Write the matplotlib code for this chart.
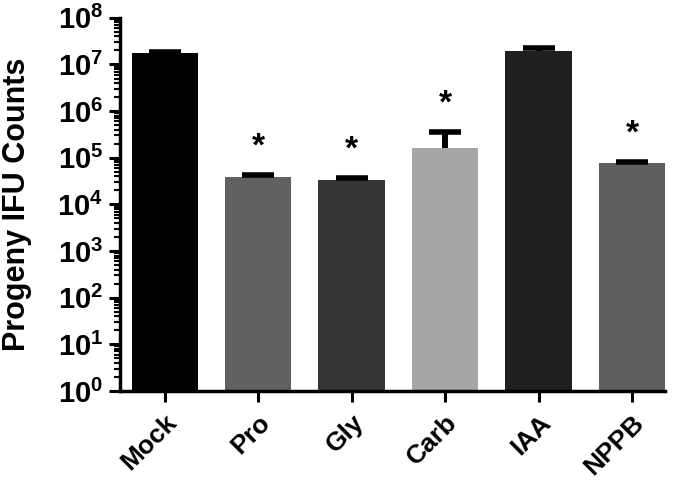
import matplotlib
matplotlib.use('Agg')
import matplotlib.pyplot as plt
import numpy as np

plt.rcParams['font.family'] = ['Liberation Sans', 'DejaVu Sans']
plt.rcParams['font.weight'] = 'bold'
plt.rcParams['mathtext.fontset'] = 'custom'
plt.rcParams['mathtext.rm'] = 'Liberation Sans:bold'
plt.rcParams['mathtext.it'] = 'Liberation Sans:bold'
plt.rcParams['mathtext.bf'] = 'Liberation Sans:bold'

categories = ['Mock', 'Pro', 'Gly', 'Carb', 'IAA', 'NPPB']
counts = [1.8e7, 3.9e4, 3.4e4, 1.6e5, 1.9e7, 7.6e4]
errors = [0.6e6, 0.35e4, 0.3e4, 1.9e5, 3.5e6, 0.35e4]
significant = [False, True, True, True, False, True]
bar_colors = ['#000000', '#616161', '#363636', '#a6a6a6', '#1f1f1f', '#5e5e5e']

fig = plt.figure(figsize=(6.85, 4.82), dpi=100)
ax = fig.add_axes([0.175, 0.189, 0.796, 0.774])

x = np.arange(len(categories))
tops = np.array(counts) + np.array(errors)
ax.bar(x, counts, width=0.71, color=bar_colors, zorder=2)
# upper error bars only (vertical line + cap)
ax.vlines(x, counts, tops, color='black', linewidth=4.3, zorder=3)
ax.plot(x, tops, linestyle='none', marker='_', markersize=23,
        markeredgewidth=4, color='black', zorder=3)

# significance stars above the error bars
for xi, t, s in zip(x, tops, significant):
    if s:
        ax.text(xi, t * 10 ** 0.6, '*', ha='center', va='center',
                fontsize=24, fontweight='bold')

ax.set_yscale('log')
ax.set_ylim(1, 1e8)
ax.set_xlim(-0.48, 5.355)

decades = np.arange(0, 9)
ax.set_yticks(10.0 ** decades)
ax.set_yticklabels([r'$10^{%d}$' % d for d in decades], fontsize=21)
ax.yaxis.set_minor_locator(matplotlib.ticker.LogLocator(base=10, subs=np.arange(2, 10), numticks=20))
ax.yaxis.set_minor_formatter(matplotlib.ticker.NullFormatter())

ax.set_xticks(x)
ax.set_xticklabels(categories, rotation=45, ha='right', rotation_mode='anchor',
                   fontsize=19, fontweight='bold')

ax.set_ylabel('Progeny IFU Counts', fontsize=22, fontweight='bold', labelpad=18)

for side in ['top', 'right']:
    ax.spines[side].set_visible(False)
for side in ['left', 'bottom']:
    ax.spines[side].set_linewidth(2.5)

ax.tick_params(axis='both', which='major', direction='out', length=8, width=2.2)
ax.tick_params(axis='y', which='major', pad=4)
ax.tick_params(axis='x', which='major', pad=6)
ax.tick_params(axis='y', which='minor', direction='out', length=4, width=1.5)

fig.savefig('out.png', dpi=100)
